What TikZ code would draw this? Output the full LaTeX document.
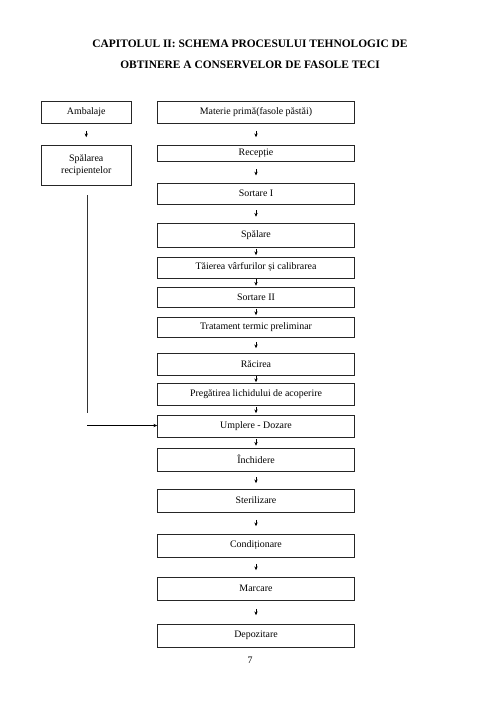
\documentclass[tikz,border=0pt]{standalone}
\usepackage{fontspec}
\setmainfont{Liberation Serif}
\usetikzlibrary{arrows.meta}
\tikzset{
  box/.style={draw=black!85, line width=0.75pt, inner sep=0pt, align=center, font=\fontsize{11.8}{13.5}\selectfont},
  arr/.style={draw=black, line width=0.75pt, -{Stealth[length=4.5pt,width=4pt]}},
  plain/.style={draw=black!80, line width=0.75pt},
  ttl/.style={font=\bfseries\fontsize{13.6}{15}\selectfont, inner sep=0pt},
}
\newcommand\mybox[6]{\node[box, minimum width={(#4-#2)*1.19pt}, minimum height={(#5-#3)*1.19pt}] (#1) at ({(#2+#4)/2},{(#3+#5)/2}) {#6};}
\newcommand\conn[3]{\draw[arr, shorten <={#3*1.19pt}, shorten >={#3*1.19pt}] (#1.south) -- (#2.north);}
\begin{document}
\begin{tikzpicture}[x=1.19pt, y=-1.19pt]
\path[fill=white] (0,0) rectangle (500,707);
\useasboundingbox (0,0) rectangle (500,707);
\node[ttl] (t1) at (250,44) {CAPITOLUL II: SCHEMA PROCESULUI TEHNOLOGIC DE};
\node[ttl] (t2) at (250,64.5) {OBTINERE A CONSERVELOR DE FASOLE TECI};
% left column
\mybox{amb}{41.5}{101}{131}{123}{Ambalaje}
\mybox{spr}{41.5}{145}{131}{185}{Spălarea\\recipientelor}
% main column
\mybox{mat}{157.5}{101}{354.5}{123}{Materie primă(fasole păstăi)}
\mybox{rec}{157.5}{145}{354.5}{161.5}{Recepție}
\mybox{so1}{157.5}{183}{354.5}{204}{Sortare I}
\mybox{spl}{157.5}{223}{354.5}{247}{Spălare}
\mybox{tai}{157.5}{257}{354.5}{278}{Tăierea vârfurilor și calibrarea}
\mybox{so2}{157.5}{287}{354.5}{307}{Sortare II}
\mybox{tra}{157.5}{317}{354.5}{337}{Tratament termic preliminar}
\mybox{rac}{157.5}{353}{354.5}{375}{Răcirea}
\mybox{pre}{157.5}{383}{354.5}{405}{Pregătirea lichidului de acoperire}
\mybox{ump}{157.5}{415}{354.5}{437}{Umplere - Dozare}
\mybox{inc}{157.5}{448}{354.5}{471}{Închidere}
\mybox{ste}{157.5}{489}{354.5}{512}{Sterilizare}
\mybox{con}{157.5}{534}{354.5}{557}{Condiționare}
\mybox{mar}{157.5}{577}{354.5}{600}{Marcare}
\mybox{dep}{157.5}{624}{354.5}{647}{Depozitare}
% connectors
\conn{amb}{spr}{7.5}
\conn{mat}{rec}{7.5}
\conn{rec}{so1}{7.25}
\conn{so1}{spl}{6}
\conn{spl}{tai}{1.5}
\conn{tai}{so2}{1}
\conn{so2}{tra}{1.5}
\conn{tra}{rac}{4.5}
\conn{rac}{pre}{0.5}
\conn{pre}{ump}{1.5}
\conn{ump}{inc}{2}
\conn{inc}{ste}{5.5}
\conn{ste}{con}{7.5}
\conn{con}{mar}{6.5}
\conn{mar}{dep}{8.5}
% side line to Umplere
\coordinate (vend) at (87.3,413);
\coordinate (hstart) at (87.3,425.5);
\draw[plain] ([yshift={-10*1.19pt}]spr.south -| vend) -- (vend);
\draw[arr] (hstart) -- (hstart -| ump.west);
% page number
\node[font=\fontsize{11.8}{13}\selectfont, inner sep=0pt] (pg) at (250,660) {7};
\end{tikzpicture}
\end{document}
